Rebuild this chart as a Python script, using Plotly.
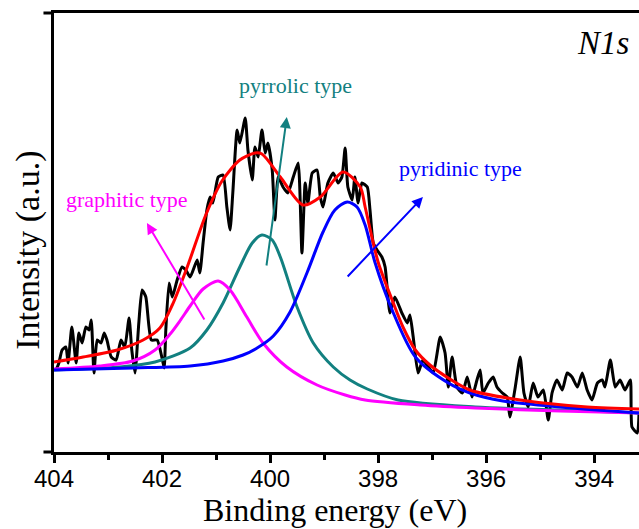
import plotly.graph_objects as go

# ---------------- data (binding energy in eV, intensity in a.u.) ----------------
raw_be = [403.96, 403.91, 403.85, 403.78, 403.74, 403.67, 403.59, 403.54, 403.48, 403.41,
          403.35, 403.31, 403.26, 403.20, 403.13, 403.07, 403.02, 402.94, 402.85, 402.76,
          402.69, 402.61, 402.56, 402.50, 402.43, 402.37, 402.30, 402.20, 402.09, 402.00,
          401.96, 401.93, 401.87, 401.81, 401.72, 401.63, 401.56, 401.48, 401.35, 401.30,
          401.24, 401.17, 401.11, 401.06, 400.96, 400.87, 400.80, 400.74, 400.69, 400.61,
          400.56, 400.46, 400.41, 400.33, 400.28, 400.22, 400.15, 400.09, 400.04, 399.96,
          399.91, 399.85, 399.76, 399.67, 399.57, 399.48, 399.41, 399.35, 399.30, 399.22,
          399.13, 399.07, 399.02, 398.93, 398.83, 398.74, 398.67, 398.61, 398.56, 398.48,
          398.43, 398.37, 398.30, 398.20, 398.15, 398.09, 398.02, 397.93, 397.87, 397.78,
          397.69, 397.56, 397.46, 397.41, 397.35, 397.26, 397.17, 397.07, 396.98, 396.85,
          396.76, 396.70, 396.63, 396.54, 396.44, 396.35, 396.26, 396.17, 396.11, 396.06,
          395.96, 395.87, 395.80, 395.70, 395.61, 395.56, 395.46, 395.37, 395.30, 395.22,
          395.13, 395.04, 394.94, 394.85, 394.78, 394.69, 394.59, 394.50, 394.41, 394.31,
          394.22, 394.13, 394.04, 393.94, 393.85, 393.80, 393.70, 393.61, 393.52, 393.43,
          393.33, 393.30, 393.20, 393.17]
raw_int = [82, 89, 102, 105, 89, 125, 89, 119, 109, 125,
           122, 132, 79, 112, 109, 119, 112, 95, 92, 112,
           105, 134, 102, 79, 129, 162, 155, 112, 112, 94,
           84, 122, 169, 155, 172, 185, 182, 175, 192, 179,
           209, 242, 255, 249, 275, 277, 245, 222, 259, 322,
           309, 334, 302, 272, 305, 295, 322, 299, 309, 282,
           232, 275, 265, 259, 275, 289, 199, 269, 249, 279,
           282, 255, 245, 269, 279, 269, 275, 304, 265, 252,
           275, 249, 269, 265, 242, 209, 202, 195, 185, 139,
           155, 139, 129, 137, 115, 79, 92, 85, 79, 115,
           99, 65, 95, 65, 59, 75, 55, 72, 82, 59,
           69, 75, 65, 59, 55, 35, 65, 95, 59, 45,
           69, 55, 62, 32, 59, 72, 62, 79, 75, 65,
           79, 62, 52, 69, 72, 65, 92, 65, 72, 62,
           72, 25, 19, 39]

env_be = [404.00, 403.46, 402.83, 402.35, 402.04, 401.81, 401.52, 401.19, 400.89, 400.56,
          400.28, 400.15, 399.81, 399.39, 399.07, 398.65, 398.33, 398.24, 398.00, 397.74,
          397.54, 397.31, 397.04, 396.70, 396.30, 395.37, 394.13, 393.17]
env_int = [90, 95, 102, 112, 124, 147, 187, 237, 271, 292,
           299, 298, 275, 247, 255, 280, 265, 245, 190, 152,
           125, 102, 87, 74, 62, 52, 45, 43]

pyridinic_be = [404.00, 402.54, 401.48, 400.87, 400.50, 400.24, 399.94, 399.63, 399.31, 399.02,
                398.80, 398.57, 398.39, 398.24, 398.06, 397.74, 397.31, 396.70, 396.30, 395.69,
                394.63, 393.17]
pyridinic_int = [82, 84, 86, 91, 97, 104, 116, 140, 180, 220,
                 242, 250, 245, 227, 190, 142, 95, 69, 59, 51,
                 45, 39]

pyrrolic_be = [404.00, 402.78, 402.13, 401.48, 401.17, 400.87, 400.56, 400.33, 400.15, 399.96,
               399.81, 399.50, 399.20, 398.83, 398.52, 398.20, 397.63, 396.20, 394.63, 393.17]
pyrrolic_int = [82, 85, 90, 104, 122, 149, 185, 209, 217, 212,
                195, 145, 109, 85, 72, 63, 52, 45, 42, 39]

graphitic_be = [404.00, 403.15, 402.54, 402.13, 401.85, 401.67, 401.48, 401.24, 400.96, 400.74,
                400.43, 400.13, 399.69, 399.13, 398.61, 398.24, 397.22, 396.20, 394.63, 393.17]
graphitic_int = [83, 86, 91, 102, 118, 131, 146, 163, 171, 162,
                 135, 109, 85, 67, 57, 52, 47, 44, 41, 39]

x_ticks = [404, 402, 400, 398, 396, 394]

# ---------------- styling ----------------
SERIF = "Liberation Serif, Times New Roman, serif"
SANS = "Liberation Sans, Arial, sans-serif"
C_RAW = "#000000"
C_ENV = "#ff0000"
C_PYRI = "#0000ff"
C_PYRR = "#128080"
C_GRAPH = "#ff00ff"

fig = go.Figure()
fig.add_trace(go.Scatter(x=raw_be, y=raw_int, mode="lines",
                         line=dict(color=C_RAW, width=3, shape="spline", smoothing=0.5)))
fig.add_trace(go.Scatter(x=pyrrolic_be, y=pyrrolic_int, mode="lines",
                         line=dict(color=C_PYRR, width=3, shape="spline", smoothing=0.8)))
fig.add_trace(go.Scatter(x=graphitic_be, y=graphitic_int, mode="lines",
                         line=dict(color=C_GRAPH, width=3, shape="spline", smoothing=0.8)))
fig.add_trace(go.Scatter(x=pyridinic_be, y=pyridinic_int, mode="lines",
                         line=dict(color=C_PYRI, width=3, shape="spline", smoothing=0.8)))
fig.add_trace(go.Scatter(x=env_be, y=env_int, mode="lines",
                         line=dict(color=C_ENV, width=3, shape="spline", smoothing=0.8)))

arrow_common = dict(xref="x", yref="y", axref="x", ayref="y", text="",
                    showarrow=True, arrowhead=2, arrowsize=1.1, arrowwidth=2)
fig.add_annotation(x=402.28, y=229, ax=401.20, ay=131, arrowcolor=C_GRAPH, **arrow_common)
fig.add_annotation(x=399.69, y=335, ax=400.07, ay=185, arrowcolor=C_PYRR, **arrow_common)
fig.add_annotation(x=397.17, y=255, ax=398.59, ay=174, arrowcolor=C_PYRI, **arrow_common)

label_common = dict(xref="x", yref="y", showarrow=False, xanchor="center", yanchor="middle")
fig.add_annotation(x=402.65, y=253, text="graphitic type",
                   font=dict(family=SERIF, size=22, color=C_GRAPH), **label_common)
fig.add_annotation(x=399.52, y=367, text="pyrrolic type",
                   font=dict(family=SERIF, size=22, color=C_PYRR), **label_common)
fig.add_annotation(x=396.48, y=284, text="pyridinic type",
                   font=dict(family=SERIF, size=22, color=C_PYRI), **label_common)
fig.add_annotation(x=393.31, y=409, text="<i>N1s</i>", xref="x", yref="y", showarrow=False,
                   xanchor="right", yanchor="middle",
                   font=dict(family=SERIF, size=33, color="#000000"))

# axis titles
fig.add_annotation(x=0.48, y=-0.133, xref="paper", yref="paper", showarrow=False,
                   text="Binding energy (eV)", xanchor="center", yanchor="middle",
                   font=dict(family=SERIF, size=32, color="#000000"))
fig.add_annotation(x=-0.045, y=0.46, xref="paper", yref="paper", showarrow=False,
                   text="Intensity (a.u.)", textangle=-90, xanchor="center", yanchor="middle",
                   font=dict(family=SERIF, size=34, color="#000000"))

# small frame extensions to the left of the y axis
for yy in (0, 1):
    fig.add_shape(type="line", xref="paper", yref="paper", x0=-0.018, x1=0, y0=yy, y1=yy,
                  line=dict(color="#000000", width=3))

fig.update_layout(
    width=639, height=529,
    margin=dict(l=54, r=0, t=13, b=77),
    paper_bgcolor="#ffffff", plot_bgcolor="#ffffff",
    showlegend=False,
    xaxis=dict(range=[404, 393.17], tickvals=x_ticks, ticktext=[str(t) for t in x_ticks],
               showgrid=False, zeroline=False, showline=True, linecolor="#000000", linewidth=3,
               mirror=True, ticks="outside", ticklen=8, tickwidth=3, tickcolor="#000000",
               ticklabelstandoff=-5,
               tickfont=dict(family=SANS, size=24, color="#000000"),
               minor=dict(dtick=1, tick0=393, ticks="outside", ticklen=5, tickwidth=3,
                          tickcolor="#000000")),
    yaxis=dict(range=[0, 439], showticklabels=False, ticks="", showgrid=False, zeroline=False,
               showline=True, linecolor="#000000", linewidth=3),
)

fig.write_html("out.html", config={"displayModeBar": False},
               post_script="document.body.style.margin='0';document.body.style.overflow='hidden';")
